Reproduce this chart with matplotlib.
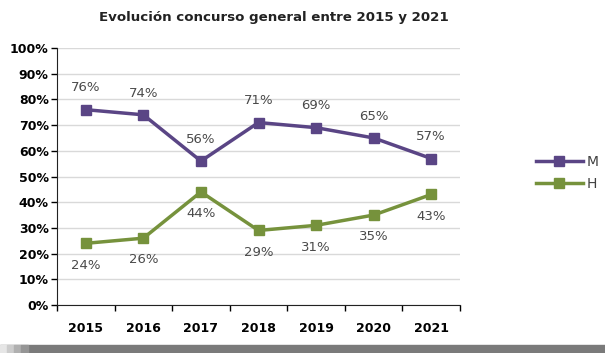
import matplotlib.pyplot as plt
from matplotlib.patches import Rectangle
import numpy as np

years = ["2015", "2016", "2017", "2018", "2019", "2020", "2021"]
m_vals = [76, 74, 56, 71, 69, 65, 57]
h_vals = [24, 26, 44, 29, 31, 35, 43]

purple = "#5a4585"
green = "#76923c"
label_col = "#4a4a4a"

fig = plt.figure(figsize=(6.05, 3.53), dpi=100)
ax = fig.add_axes([57 / 605, 1 - 305 / 353, (460 - 57) / 605, (305 - 48) / 353])

x = np.arange(len(years))
ax.plot(x, m_vals, color=purple, lw=2.5, marker="s", ms=7, label="M")
ax.plot(x, h_vals, color=green, lw=2.5, marker="s", ms=7, label="H")

# data labels: M above, H below
for xi, v in zip(x, m_vals):
    ax.annotate(f"{v}%", (xi, v), xytext=(0, 11), textcoords="offset points",
                ha="center", va="bottom", fontsize=9.5, color=label_col)
for xi, v in zip(x, h_vals):
    ax.annotate(f"{v}%", (xi, v), xytext=(0, -11), textcoords="offset points",
                ha="center", va="top", fontsize=9.5, color=label_col)

ax.set_xlim(-0.5, len(years) - 0.5)
ax.set_ylim(0, 100)
ax.set_yticks(np.arange(0, 101, 10))
ax.set_yticklabels([f"{t}%" for t in range(0, 101, 10)], fontweight="bold", fontsize=9)
ax.set_xticks(x)
ax.set_xticklabels(years, fontweight="bold", fontsize=9)
ax.set_xticks(np.arange(-0.5, len(years)), minor=True)
ax.tick_params(axis="x", which="major", length=0, pad=12)
ax.tick_params(axis="x", which="minor", length=4, width=1, direction="out")
ax.tick_params(axis="y", length=4, width=1, direction="out", pad=2)

ax.grid(axis="y", color="#d9d9d9", lw=1)
ax.set_axisbelow(True)
for s in ["top", "right"]:
    ax.spines[s].set_visible(False)
ax.spines["left"].set_color("#222222")
ax.spines["bottom"].set_color("#222222")

fig.legend(loc="center left", bbox_to_anchor=(530 / 605, 1 - 173 / 353), frameon=False,
           handlelength=3.4, fontsize=10, labelcolor="#404040", handletextpad=0.3,
           labelspacing=0.6, borderaxespad=0)

fig.text(274 / 605, 1 - 17 / 353, "Evolución concurso general entre 2015 y 2021",
         ha="center", va="center", fontsize=9.6, fontweight="bold", color="#222222")

# grey band at the bottom
fig.patches.append(Rectangle((0, 0), 1, 8 / 353, transform=fig.transFigure,
                             color="#7a7a7a", zorder=0))
for i, c in enumerate(["#e6e6e6", "#cccccc", "#b0b0b0", "#959595"]):
    fig.patches.append(Rectangle((i * 7 / 605, 0), 7 / 605, 8 / 353,
                                 transform=fig.transFigure, color=c, zorder=1))

fig.savefig("out.png", dpi=100)
